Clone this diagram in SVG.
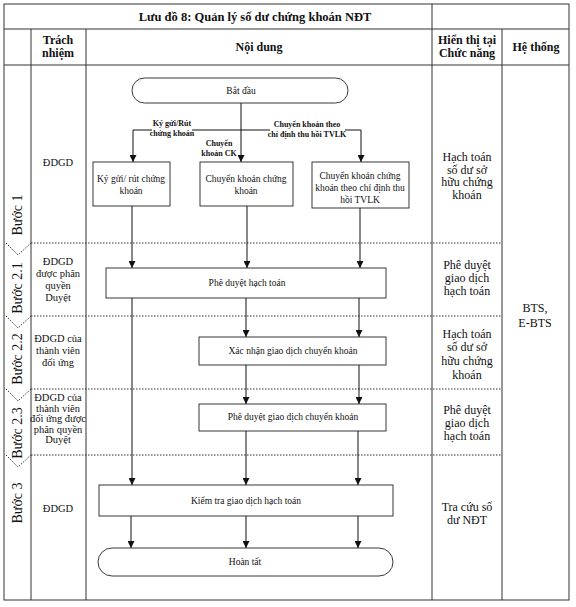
<svg xmlns="http://www.w3.org/2000/svg" width="576" height="607" viewBox="0 0 576 607">
<defs>
<marker id="ah" viewBox="0 0 10 10" refX="10" refY="5" markerWidth="7" markerHeight="7" markerUnits="userSpaceOnUse" orient="auto">
<path d="M0,0 L10,5 L0,10 z" fill="#111"/>
</marker>
<style>
.grid{stroke:#333;stroke-width:1;fill:none}
.dot{stroke:#333;stroke-width:1;stroke-dasharray:1.5 1.5;fill:none}
.box{fill:#fff;stroke:#222;stroke-width:0.9}
.con{stroke:#111;stroke-width:1;fill:none;marker-end:url(#ah)}
.ln{stroke:#111;stroke-width:1;fill:none}
text{font-family:"Liberation Serif","Times New Roman",serif;fill:#111}
.hd{font-size:12px;font-weight:bold;text-anchor:middle}
.tt{font-size:12.5px;font-weight:bold;text-anchor:middle}
.nd{font-size:9.5px;text-anchor:middle}
.lb{font-size:8px;font-weight:bold;text-anchor:middle}
.rs{font-size:10.5px;text-anchor:middle}
.fn{font-size:12px;text-anchor:middle}
.st{font-size:14px;text-anchor:middle}
</style>
</defs>
<rect width="576" height="607" fill="#fff"/>
<g id="table">
<rect class="grid" x="4" y="4" width="565" height="596"/>
<line class="grid" x1="4" y1="29" x2="569" y2="29"/>
<line class="grid" x1="4" y1="65" x2="569" y2="65"/>
<line class="grid" x1="31" y1="29" x2="31" y2="600"/>
<line class="grid" x1="86" y1="29" x2="86" y2="600"/>
<line class="grid" x1="432" y1="4" x2="432" y2="600"/>
<line class="grid" x1="502" y1="29" x2="502" y2="600"/>
<line class="dot" x1="31" y1="243" x2="502" y2="243"/>
<line class="dot" x1="31" y1="316" x2="502" y2="316"/>
<line class="dot" x1="31" y1="389" x2="502" y2="389"/>
<line class="dot" x1="31" y1="455" x2="502" y2="455"/>
<polyline class="dot" points="6,243 18,255 31,243"/>
<polyline class="dot" points="6,316 18,328 31,316"/>
<polyline class="dot" points="6,389 18,401 31,389"/>
<polyline class="dot" points="6,455 18,467 31,455"/>
<text class="tt" x="255" y="21">Lưu đồ 8: Quản lý số dư chứng khoán NĐT</text>
<text class="hd" x="58" y="44">Trách</text>
<text class="hd" x="58" y="57">nhiệm</text>
<text class="hd" x="259" y="51">Nội dung</text>
<text class="hd" x="467" y="44">Hiển thị tại</text>
<text class="hd" x="467" y="57">Chức năng</text>
<text class="hd" x="536" y="51">Hệ thống</text>
</g>
<g id="steps">
<text class="st" transform="translate(22,215) rotate(-90)">Bước 1</text>
<text class="st" transform="translate(22,288) rotate(-90)">Bước 2.1</text>
<text class="st" transform="translate(22,359) rotate(-90)">Bước 2.2</text>
<text class="st" transform="translate(22,433) rotate(-90)">Bước 2.3</text>
<text class="st" transform="translate(22,503) rotate(-90)">Bước 3</text>
</g>
<g id="roles">
<text class="rs" x="58" y="166">ĐDGD</text>
<text class="rs" x="58" y="265">ĐDGD</text>
<text class="rs" x="58" y="277">được phân</text>
<text class="rs" x="58" y="289">quyền</text>
<text class="rs" x="58" y="301">Duyệt</text>
<text class="rs" x="58" y="342">ĐDGD của</text>
<text class="rs" x="58" y="354">thành viên</text>
<text class="rs" x="58" y="366">đối ứng</text>
<text class="rs" x="58" y="401">ĐDGD của</text>
<text class="rs" x="58" y="411.5">thành viên</text>
<text class="rs" x="58" y="422">đối ứng được</text>
<text class="rs" x="58" y="432.5">phân quyền</text>
<text class="rs" x="58" y="443">Duyệt</text>
<text class="rs" x="58" y="512">ĐDGD</text>
</g>
<g id="functions">
<text class="fn" x="467" y="161">Hạch toán</text>
<text class="fn" x="467" y="173.5">số dư sở</text>
<text class="fn" x="467" y="186">hữu chứng</text>
<text class="fn" x="467" y="198.5">khoán</text>
<text class="fn" x="467" y="269">Phê duyệt</text>
<text class="fn" x="467" y="282">giao dịch</text>
<text class="fn" x="467" y="295">hạch toán</text>
<text class="fn" x="467" y="338">Hạch toán</text>
<text class="fn" x="467" y="351">số dư sở</text>
<text class="fn" x="467" y="365">hữu chứng</text>
<text class="fn" x="467" y="379">khoán</text>
<text class="fn" x="467" y="414">Phê duyệt</text>
<text class="fn" x="467" y="427">giao dịch</text>
<text class="fn" x="467" y="440">hạch toán</text>
<text class="fn" x="467" y="511">Tra cứu số</text>
<text class="fn" x="467" y="524">dư NĐT</text>
<text class="fn" x="535" y="312">BTS,</text>
<text class="fn" x="535" y="327">E-BTS</text>
</g>
<g id="connectors">
<line class="con" x1="241" y1="103" x2="241" y2="162"/>
<polyline class="ln" points="241,130 133,130"/>
<line class="con" x1="133" y1="130" x2="133" y2="162"/>
<polyline class="ln" points="241,130 361,130"/>
<line class="con" x1="361" y1="130" x2="361" y2="162"/>
<line class="con" x1="132" y1="206" x2="132" y2="268"/>
<line class="con" x1="247" y1="206" x2="247" y2="268"/>
<line class="con" x1="360" y1="208" x2="360" y2="268"/>
<line class="con" x1="132" y1="298" x2="132" y2="485"/>
<line class="con" x1="246" y1="298" x2="246" y2="337"/>
<line class="con" x1="359" y1="298" x2="359" y2="337"/>
<line class="con" x1="246" y1="365" x2="246" y2="404"/>
<line class="con" x1="359" y1="365" x2="359" y2="404"/>
<line class="con" x1="246" y1="431" x2="246" y2="485"/>
<line class="con" x1="358" y1="431" x2="358" y2="485"/>
<line class="con" x1="131" y1="516" x2="131" y2="548"/>
<line class="con" x1="246" y1="516" x2="246" y2="548"/>
<line class="con" x1="358" y1="516" x2="358" y2="548"/>
<rect x="152" y="117" width="40" height="22" fill="#fff"/>
<text class="lb" x="172" y="126">Ký gửi/Rút</text>
<text class="lb" x="172" y="136">chứng khoán</text>
<rect x="270" y="119" width="75" height="20" fill="#fff"/>
<text class="lb" x="307" y="127">Chuyển khoản theo</text>
<text class="lb" x="307" y="137">chỉ định thu hồi TVLK</text>
<text class="lb" x="219" y="146">Chuyển</text>
<text class="lb" x="219" y="156">khoản CK</text>
</g>
<g id="start">
<rect class="box" x="132" y="78" width="216" height="25" rx="12.5"/>
<text class="nd" x="241" y="94">Bắt đầu</text>
</g>
<g id="kyguirut">
<rect class="box" x="93" y="162" width="77" height="44"/>
<text class="nd" x="131" y="182">Ký gửi/ rút chứng</text>
<text class="nd" x="131" y="194">khoán</text>
</g>
<g id="chuyenkhoan">
<rect class="box" x="200" y="162" width="93" height="44"/>
<text class="nd" x="246" y="182">Chuyển khoản chứng</text>
<text class="nd" x="246" y="194">khoán</text>
</g>
<g id="chidinh">
<rect class="box" x="312" y="162" width="97" height="46"/>
<text class="nd" x="360" y="179">Chuyển khoản chứng</text>
<text class="nd" x="360" y="191">khoán theo chỉ định thu</text>
<text class="nd" x="360" y="203">hồi TVLK</text>
</g>
<g id="pheduyetht">
<rect class="box" x="106" y="268" width="280" height="30"/>
<text class="nd" x="247" y="286">Phê duyệt hạch toán</text>
</g>
<g id="xacnhan">
<rect class="box" x="199" y="337" width="187" height="28"/>
<text class="nd" x="293" y="354">Xác nhận giao dịch chuyển khoản</text>
</g>
<g id="pheduyetck">
<rect class="box" x="199" y="404" width="187" height="27"/>
<text class="nd" x="293" y="420">Phê duyệt giao dịch chuyển khoản</text>
</g>
<g id="kiemtra">
<rect class="box" x="99" y="485" width="294" height="31"/>
<text class="nd" x="246" y="504">Kiểm tra giao dịch hạch toán</text>
</g>
<g id="end">
<rect class="box" x="98" y="548" width="295" height="28" rx="14"/>
<text class="nd" x="245" y="565">Hoàn tất</text>
</g>
</svg>
